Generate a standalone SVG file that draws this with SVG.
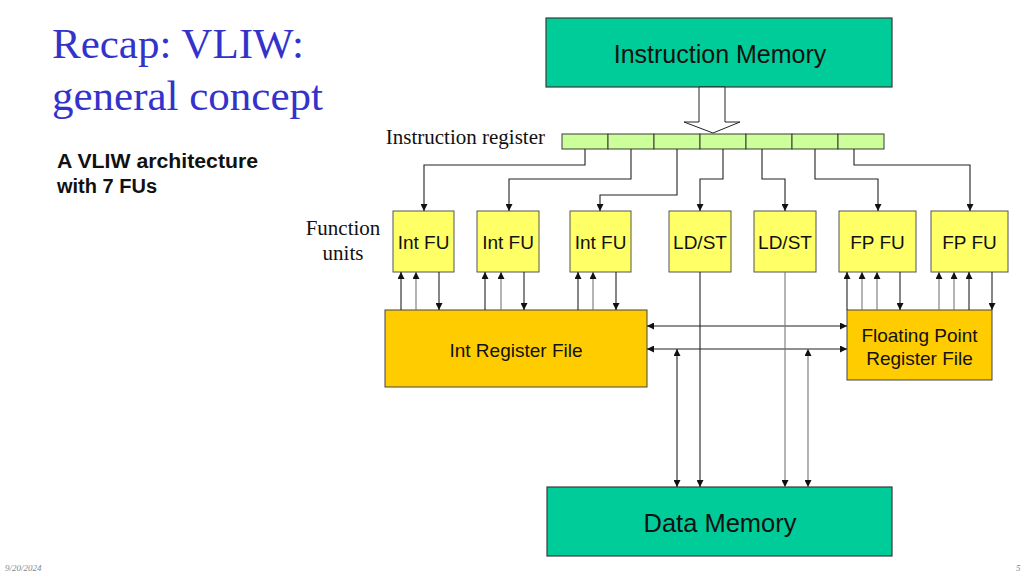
<svg xmlns="http://www.w3.org/2000/svg" width="1024" height="576" viewBox="0 0 1024 576">
<style>
.mem{fill:#00CC99;stroke:#3a3a3a;stroke-width:1.2}
.ir{fill:#CCFF99;stroke:#3a3a3a;stroke-width:1}
.fu{fill:#FFFF66;stroke:#555;stroke-width:1}
.rf{fill:#FFCC00;stroke:#444;stroke-width:1}
.sans{font-family:"Liberation Sans",Arial,sans-serif;fill:#111}
.serif{font-family:"Liberation Serif","Times New Roman",serif;fill:#111}
.c{fill:none;stroke:#222;stroke-width:1.1}
.g{fill:none;stroke:#777;stroke-width:1.1}
</style>
<defs>
<marker id="ah" viewBox="0 0 10 10" refX="10" refY="5" markerWidth="7" markerHeight="7" markerUnits="userSpaceOnUse" orient="auto-start-reverse">
<path d="M0,0 L10,5 L0,10 z" fill="#111"/>
</marker>
</defs>
<rect width="1024" height="576" fill="#fff"/>

<g id="title">
<text x="52" y="58" font-family="Liberation Serif,'Times New Roman',serif" font-size="43" fill="#3333CC">Recap: VLIW:</text>
<text x="52" y="110" font-family="Liberation Serif,'Times New Roman',serif" font-size="43" fill="#3333CC">general concept</text>
</g>
<g id="subtitle">
<text class="sans" x="57" y="168" font-size="20" font-weight="bold" textLength="201" lengthAdjust="spacingAndGlyphs">A VLIW architecture</text>
<text class="sans" x="57" y="193" font-size="20" font-weight="bold">with 7 FUs</text>
</g>

<g id="instruction-memory">
<rect class="mem" x="546" y="18" width="346" height="69"/>
<text class="sans" x="720" y="63" font-size="25" text-anchor="middle">Instruction Memory</text>
</g>

<g id="fetch-arrow">
<path d="M699,87 L725,87 L725,122 L740,122 L713,133 L684,122 L699,122 Z" fill="#fff" stroke="#222" stroke-width="1"/>
</g>

<g id="instruction-register">
<text class="serif" x="545" y="144" font-size="21" text-anchor="end">Instruction register</text>
<rect class="ir" x="562" y="134" width="46" height="15"/>
<rect class="ir" x="608" y="134" width="46" height="15"/>
<rect class="ir" x="654" y="134" width="46" height="15"/>
<rect class="ir" x="700" y="134" width="46" height="15"/>
<rect class="ir" x="746" y="134" width="46" height="15"/>
<rect class="ir" x="792" y="134" width="46" height="15"/>
<rect class="ir" x="838" y="134" width="46" height="15"/>
</g>

<g id="function-units-label">
<text class="serif" x="343" y="235" font-size="21" text-anchor="middle">Function</text>
<text class="serif" x="343" y="260" font-size="21" text-anchor="middle">units</text>
</g>

<g id="fu1"><rect class="fu" x="393" y="211" width="61" height="61"/><text class="sans" x="423.5" y="249" font-size="19" text-anchor="middle">Int FU</text></g>
<g id="fu2"><rect class="fu" x="477" y="211" width="62" height="61"/><text class="sans" x="508" y="249" font-size="19" text-anchor="middle">Int FU</text></g>
<g id="fu3"><rect class="fu" x="570" y="211" width="61" height="61"/><text class="sans" x="600.5" y="249" font-size="19" text-anchor="middle">Int FU</text></g>
<g id="fu4"><rect class="fu" x="669" y="211" width="62" height="61"/><text class="sans" x="700" y="249" font-size="19" text-anchor="middle">LD/ST</text></g>
<g id="fu5"><rect class="fu" x="754" y="211" width="62" height="61"/><text class="sans" x="785" y="249" font-size="19" text-anchor="middle">LD/ST</text></g>
<g id="fu6"><rect class="fu" x="839" y="211" width="77" height="61"/><text class="sans" x="877.5" y="249" font-size="19" text-anchor="middle">FP FU</text></g>
<g id="fu7"><rect class="fu" x="931" y="211" width="77" height="61"/><text class="sans" x="969.5" y="249" font-size="19" text-anchor="middle">FP FU</text></g>

<g id="int-register-file">
<rect class="rf" x="385" y="310" width="262" height="77"/>
<text class="sans" x="516" y="357" font-size="19" text-anchor="middle">Int Register File</text>
</g>
<g id="fp-register-file">
<rect class="rf" x="847" y="310" width="145" height="70"/>
<text class="sans" x="919.5" y="342" font-size="19" text-anchor="middle">Floating Point</text>
<text class="sans" x="919.5" y="365" font-size="19" text-anchor="middle">Register File</text>
</g>

<g id="data-memory">
<rect class="mem" x="547" y="487" width="345" height="69"/>
<text class="sans" x="720" y="532" font-size="25.5" text-anchor="middle">Data Memory</text>
</g>

<g id="connectors">
<path class="c" d="M585,149 V165 H424 V211" marker-end="url(#ah)"/>
<path class="c" d="M631,149 V179 H509 V211" marker-end="url(#ah)"/>
<path class="c" d="M677,149 V195 H600 V211" marker-end="url(#ah)"/>
<path class="c" d="M723,149 V179 H700 V211" marker-end="url(#ah)"/>
<path class="c" d="M762,149 V179 H785 V211" marker-end="url(#ah)"/>
<path class="c" d="M815,149 V179 H878 V211" marker-end="url(#ah)"/>
<path class="c" d="M854,149 V165 H970 V211" marker-end="url(#ah)"/>

<path class="c" d="M401,310 V272" marker-end="url(#ah)"/>
<path class="g" d="M416,310 V272" marker-end="url(#ah)"/>
<path class="c" d="M439,272 V310" marker-end="url(#ah)"/>
<path class="c" d="M485,310 V272" marker-end="url(#ah)"/>
<path class="g" d="M501,310 V272" marker-end="url(#ah)"/>
<path class="c" d="M524,272 V310" marker-end="url(#ah)"/>
<path class="c" d="M578,310 V272" marker-end="url(#ah)"/>
<path class="g" d="M593,310 V272" marker-end="url(#ah)"/>
<path class="c" d="M616,272 V310" marker-end="url(#ah)"/>

<path class="c" d="M847,310 V272" marker-end="url(#ah)"/>
<path class="g" d="M862,310 V272" marker-end="url(#ah)"/>
<path class="g" d="M877,310 V272" marker-end="url(#ah)"/>
<path class="c" d="M900,272 V310" marker-end="url(#ah)"/>
<path class="g" d="M939,310 V272" marker-end="url(#ah)"/>
<path class="g" d="M954,310 V272" marker-end="url(#ah)"/>
<path class="c" d="M969,310 V272" marker-end="url(#ah)"/>
<path class="c" d="M992,272 V310" marker-end="url(#ah)"/>

<path class="c" d="M647,326 H847" marker-start="url(#ah)" marker-end="url(#ah)"/>
<path class="c" d="M647,349 H847" marker-start="url(#ah)" marker-end="url(#ah)"/>

<path class="c" d="M677,349 V487" marker-start="url(#ah)" marker-end="url(#ah)"/>
<path class="c" d="M700,272 V487" marker-end="url(#ah)"/>
<path class="g" d="M785,272 V487" marker-end="url(#ah)"/>
<path class="g" d="M808,349 V487" marker-start="url(#ah)" marker-end="url(#ah)"/>
</g>

<g id="footer">
<text x="5" y="571" font-family="Liberation Serif,serif" font-style="italic" font-size="9" fill="#888">9/20/2024</text>
<text x="1016" y="571" font-family="Liberation Serif,serif" font-style="italic" font-size="9" fill="#888">5</text>
</g>
</svg>
